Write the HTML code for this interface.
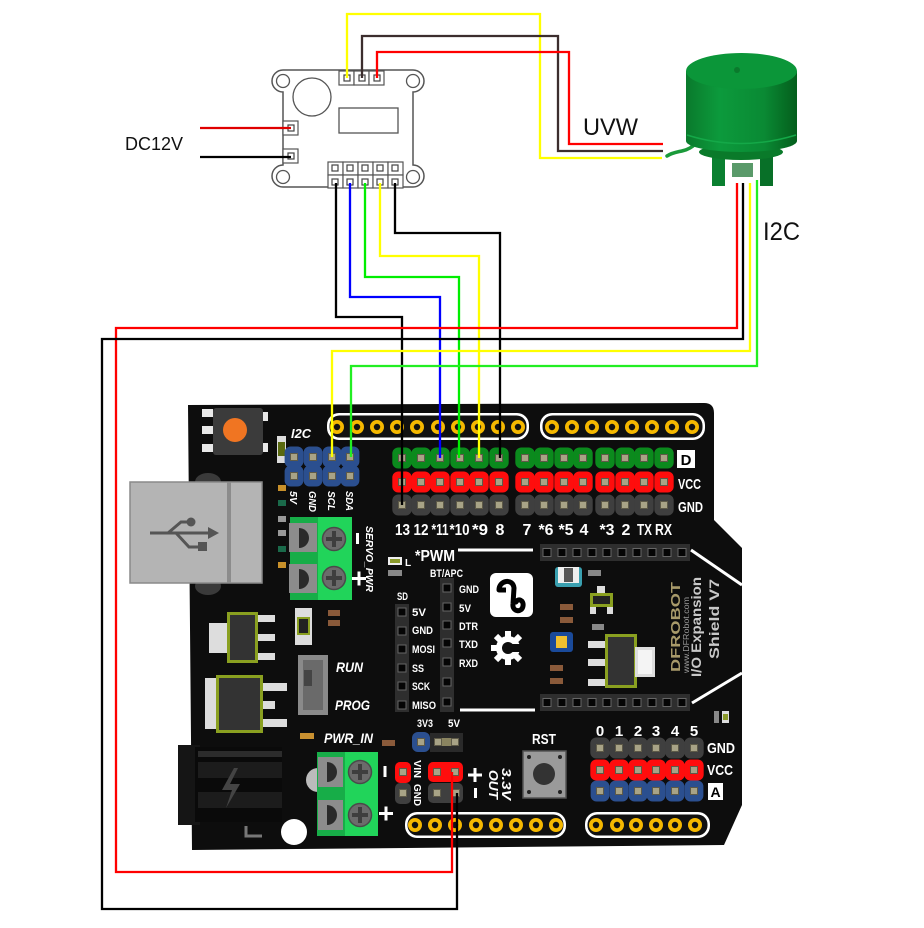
<!DOCTYPE html>
<html><head><meta charset="utf-8"><style>
html,body{margin:0;padding:0;background:#fff;}
svg{display:block}
text{font-family:"Liberation Sans",sans-serif;}
.w{fill:#fff;font-weight:bold;}
.wi{fill:#fff;font-weight:bold;font-style:italic;}
</style></head><body>
<svg width="924" height="928" viewBox="0 0 924 928" xmlns="http://www.w3.org/2000/svg">
<defs>
 <linearGradient id="mg" x1="0" y1="0" x2="1" y2="0">
  <stop offset="0" stop-color="#0a7a2c"/><stop offset="0.3" stop-color="#0c9a3c"/><stop offset="0.7" stop-color="#0a8a34"/><stop offset="1" stop-color="#045e1c"/>
 </linearGradient>
 <g id="ps"><rect x="-3.5" y="-3.5" width="7" height="7" fill="#a8a386" stroke="#5e5a48" stroke-width="1"/></g>
 <g id="cg"><rect x="-9.7" y="-10.5" width="19.4" height="21" rx="6" fill="#0b8a1d"/><use href="#ps"/></g>
 <g id="cr"><rect x="-9.7" y="-10.5" width="19.4" height="21" rx="6" fill="#ff0d0d"/><use href="#ps"/></g>
 <g id="ck"><rect x="-9.7" y="-10.5" width="19.4" height="21" rx="6" fill="#3f3f3f"/><use href="#ps"/></g>
 <g id="cb"><rect x="-9.4" y="-10.5" width="18.8" height="21" rx="6" fill="#2b4f8f"/><use href="#ps"/></g>
 <g id="yp"><circle r="7" fill="#f5b800"/><circle r="3.2" fill="#111"/></g>
 <g id="bp"><rect x="-4" y="-4" width="8" height="8" fill="#050505" stroke="#666" stroke-width="1"/></g>
 <g id="dp"><rect x="-4" y="-4" width="8" height="8" fill="none" stroke="#555" stroke-width="1.2"/><rect x="-2" y="-2" width="4" height="4" fill="#333"/></g>
</defs>

<!-- ===== Driver board ===== -->
<path d="M283,70 H413 A11,11 0 0 1 413,92 V165 A11,11 0 0 1 413,187 H283 A11,11 0 0 1 283,165 V92 A11,11 0 0 1 283,70 Z" fill="#fff" stroke="#555" stroke-width="1.5"/>
<circle cx="283" cy="81" r="6.5" fill="#fff" stroke="#555" stroke-width="1.3"/>
<circle cx="413" cy="81" r="6.5" fill="#fff" stroke="#555" stroke-width="1.3"/>
<circle cx="283" cy="177" r="6.5" fill="#fff" stroke="#555" stroke-width="1.3"/>
<circle cx="413" cy="177" r="6.5" fill="#fff" stroke="#555" stroke-width="1.3"/>
<circle cx="312" cy="97" r="19" fill="#fff" stroke="#555" stroke-width="1.3"/>
<rect x="339" y="108" width="59" height="25" fill="#fff" stroke="#555" stroke-width="1.3"/>
<g fill="#fff" stroke="#555" stroke-width="1.2">
 <rect x="339" y="71" width="15" height="14"/><rect x="354" y="71" width="15" height="14"/><rect x="369" y="71" width="15" height="14"/>
 <rect x="283" y="121" width="15" height="14"/><rect x="283" y="149" width="15" height="14"/>
 <rect x="328" y="162" width="15" height="13"/><rect x="343" y="162" width="15" height="13"/><rect x="358" y="162" width="15" height="13"/><rect x="373" y="162" width="15" height="13"/><rect x="388" y="162" width="15" height="13"/>
 <rect x="328" y="175" width="15" height="13"/><rect x="343" y="175" width="15" height="13"/><rect x="358" y="175" width="15" height="13"/><rect x="373" y="175" width="15" height="13"/><rect x="388" y="175" width="15" height="13"/>
</g>
<g fill="#fff" stroke="#444" stroke-width="1.2">
 <rect x="344" y="75" width="6" height="6"/><rect x="359" y="75" width="6" height="6"/><rect x="374" y="75" width="6" height="6"/>
 <rect x="288" y="125" width="6" height="6"/><rect x="288" y="153" width="6" height="6"/>
 <rect x="332" y="165" width="6" height="6"/><rect x="347" y="165" width="6" height="6"/><rect x="362" y="165" width="6" height="6"/><rect x="377" y="165" width="6" height="6"/><rect x="392" y="165" width="6" height="6"/>
 <rect x="332" y="179" width="6" height="6"/><rect x="347" y="179" width="6" height="6"/><rect x="362" y="179" width="6" height="6"/><rect x="377" y="179" width="6" height="6"/><rect x="392" y="179" width="6" height="6"/>
</g>

<text x="125" y="150" font-size="18" fill="#111" textLength="58" lengthAdjust="spacingAndGlyphs">DC12V</text>
<text x="583" y="135" font-size="24" fill="#111" textLength="55" lengthAdjust="spacingAndGlyphs">UVW</text>
<text x="763" y="240" font-size="25" fill="#111" textLength="37" lengthAdjust="spacingAndGlyphs">I2C</text>

<!-- ===== Motor ===== -->
<path d="M667,156 C676,150 684,153 693,146" stroke="#1a9a3a" stroke-width="3.5" fill="none" stroke-linecap="round"/>
<rect x="712" y="152" width="13" height="34" fill="#0a8030"/>
<rect x="760" y="152" width="13" height="34" fill="#087028"/>
<ellipse cx="741" cy="152" rx="42" ry="8" fill="#0a7a2a"/>
<rect x="732" y="163" width="21" height="14" fill="#5a9a6a"/>
<rect x="686" y="71" width="111" height="70" fill="url(#mg)"/>
<ellipse cx="741.5" cy="141" rx="55.5" ry="11" fill="url(#mg)"/>
<path d="M687,135 Q741,152 796,135" stroke="#14a848" stroke-width="1.5" fill="none"/>
<ellipse cx="741.5" cy="71" rx="55.5" ry="18" fill="#0b9639"/>
<circle cx="737" cy="70" r="3" fill="#0a7a2c"/>

<!-- ===== Arduino shield board ===== -->
<path d="M188,405 L704,403 Q714,403 714,413 L714,520 L742,548 L742,805 L724,845 L192,850 Z" fill="#0d0d0d"/>

<!-- USB -->
<ellipse cx="208" cy="482" rx="13" ry="9" fill="#3a3a3a"/>
<ellipse cx="208" cy="586" rx="13" ry="9" fill="#3a3a3a"/>
<rect x="130" y="482" width="132" height="101" fill="#b4b4b4" stroke="#8a8a8a" stroke-width="1.5"/>
<rect x="227" y="482" width="4" height="101" fill="#8c8c8c"/>
<g stroke="#555" stroke-width="3" fill="none">
 <line x1="150" y1="533" x2="210" y2="533"/>
 <polyline points="168,533 181,522 191,522"/>
 <polyline points="176,533 189,547 200,547"/>
</g>
<circle cx="191" cy="522" r="4.5" fill="#555"/>
<rect x="198" y="542" width="9" height="9" fill="#555"/>
<polygon points="219,533 208,527 208,539" fill="#555"/>

<!-- orange button -->
<g fill="#e8e8e8">
 <rect x="202" y="409" width="11" height="8"/><rect x="202" y="426" width="11" height="8"/><rect x="202" y="444" width="11" height="8"/>
 <rect x="257" y="412" width="11" height="9"/><rect x="257" y="443" width="11" height="9"/>
</g>
<rect x="213" y="408" width="50" height="47" rx="3" fill="#3b3b3b"/>
<circle cx="235" cy="430" r="12" fill="#f07522"/>

<!-- small left parts -->
<rect x="277" y="436" width="9" height="27" fill="#ddd"/><rect x="278" y="442" width="7" height="14" fill="#5a6a10"/>
<rect x="278" y="485" width="8" height="6" fill="#c8902a"/>
<rect x="278" y="500" width="8" height="6" fill="#1a6a4a"/>
<rect x="278" y="516" width="8" height="6" fill="#999"/>
<rect x="278" y="530" width="8" height="6" fill="#999"/>
<rect x="278" y="546" width="8" height="6" fill="#1a6a4a"/>
<rect x="278" y="562" width="8" height="6" fill="#c8902a"/>

<!-- I2C header -->
<text x="291" y="438" font-size="13" class="wi" textLength="20" lengthAdjust="spacingAndGlyphs">I2C</text>
<use href="#cb" x="294" y="457"/><use href="#cb" x="294" y="476"/>
<use href="#cb" x="313" y="457"/><use href="#cb" x="313" y="476"/>
<use href="#cb" x="332" y="457"/><use href="#cb" x="332" y="476"/>
<use href="#cb" x="350" y="457"/><use href="#cb" x="350" y="476"/>
<text transform="translate(290,491) rotate(90)" font-size="10" class="wi" textLength="13" lengthAdjust="spacingAndGlyphs">5V</text>
<text transform="translate(309,491) rotate(90)" font-size="10" class="wi" textLength="21" lengthAdjust="spacingAndGlyphs">GND</text>
<text transform="translate(328,491) rotate(90)" font-size="10" class="wi" textLength="20" lengthAdjust="spacingAndGlyphs">SCL</text>
<text transform="translate(346,491) rotate(90)" font-size="10" class="wi" textLength="20" lengthAdjust="spacingAndGlyphs">SDA</text>

<!-- SERVO_PWR terminal -->
<rect x="290" y="517" width="62" height="83" fill="#21d45a"/>
<rect x="290" y="517" width="28" height="83" fill="#17ad48"/>
<rect x="289" y="523" width="28" height="29" fill="#8c8c8c"/>
<rect x="289" y="564" width="28" height="29" fill="#8c8c8c"/>
<path d="M299,528 a10,10 0 0 1 0,20 z" fill="#2a2a2a"/>
<path d="M299,569 a10,10 0 0 1 0,20 z" fill="#2a2a2a"/>
<circle cx="334" cy="539" r="11.5" fill="#6b6b6b" stroke="#4a4a4a" stroke-width="1.5"/>
<circle cx="334" cy="578" r="11.5" fill="#6b6b6b" stroke="#4a4a4a" stroke-width="1.5"/>
<g fill="#3e3e3e"><rect x="326" y="537" width="16" height="4"/><rect x="332" y="531" width="4" height="16"/><rect x="326" y="576" width="16" height="4"/><rect x="332" y="570" width="4" height="16"/></g>
<rect x="356" y="533" width="3" height="11" fill="#fff"/>
<rect x="352" y="577" width="14" height="3" fill="#fff"/><rect x="357.5" y="571.5" width="3" height="14" fill="#fff"/>
<text transform="translate(366,526) rotate(90)" font-size="10" class="wi" textLength="66" lengthAdjust="spacingAndGlyphs">SERVO_PWR</text>

<!-- top yellow headers -->
<rect x="327" y="413" width="202" height="27" rx="12" fill="#fff"/>
<rect x="329.5" y="415.5" width="197" height="22" rx="10" fill="#111"/>
<rect x="540" y="413" width="165" height="27" rx="12" fill="#fff"/>
<rect x="542.5" y="415.5" width="160" height="22" rx="10" fill="#111"/>
<use href="#yp" x="337" y="427"/><use href="#yp" x="357" y="427"/><use href="#yp" x="377" y="427"/><use href="#yp" x="397" y="427"/><use href="#yp" x="417" y="427"/>
<use href="#yp" x="438" y="427"/><use href="#yp" x="458" y="427"/><use href="#yp" x="478" y="427"/><use href="#yp" x="498" y="427"/><use href="#yp" x="518" y="427"/>
<use href="#yp" x="552" y="427"/><use href="#yp" x="572" y="427"/><use href="#yp" x="592" y="427"/><use href="#yp" x="612" y="427"/>
<use href="#yp" x="632" y="427"/><use href="#yp" x="652" y="427"/><use href="#yp" x="672" y="427"/><use href="#yp" x="692" y="427"/>

<!-- digital rows -->
<g>
<use href="#cg" x="402" y="458"/><use href="#cg" x="421" y="458"/><use href="#cg" x="440" y="458"/><use href="#cg" x="460" y="458"/><use href="#cg" x="479" y="458"/><use href="#cg" x="499" y="458"/>
<use href="#cg" x="525" y="458"/><use href="#cg" x="544" y="458"/><use href="#cg" x="564" y="458"/><use href="#cg" x="583" y="458"/>
<use href="#cg" x="605" y="458"/><use href="#cg" x="625" y="458"/><use href="#cg" x="644" y="458"/><use href="#cg" x="664" y="458"/>
<use href="#cr" x="402" y="482"/><use href="#cr" x="421" y="482"/><use href="#cr" x="440" y="482"/><use href="#cr" x="460" y="482"/><use href="#cr" x="479" y="482"/><use href="#cr" x="499" y="482"/>
<use href="#cr" x="525" y="482"/><use href="#cr" x="544" y="482"/><use href="#cr" x="564" y="482"/><use href="#cr" x="583" y="482"/>
<use href="#cr" x="605" y="482"/><use href="#cr" x="625" y="482"/><use href="#cr" x="644" y="482"/><use href="#cr" x="664" y="482"/>
<use href="#ck" x="402" y="505"/><use href="#ck" x="421" y="505"/><use href="#ck" x="440" y="505"/><use href="#ck" x="460" y="505"/><use href="#ck" x="479" y="505"/><use href="#ck" x="499" y="505"/>
<use href="#ck" x="525" y="505"/><use href="#ck" x="544" y="505"/><use href="#ck" x="564" y="505"/><use href="#ck" x="583" y="505"/>
<use href="#ck" x="605" y="505"/><use href="#ck" x="625" y="505"/><use href="#ck" x="644" y="505"/><use href="#ck" x="664" y="505"/>
</g>
<rect x="677" y="450" width="18" height="18" fill="#fff"/>
<text x="686" y="465" font-size="15" font-weight="bold" fill="#000" text-anchor="middle">D</text>
<text x="678" y="489" font-size="15" class="w" textLength="23" lengthAdjust="spacingAndGlyphs">VCC</text>
<text x="678" y="512" font-size="15" class="w" textLength="25" lengthAdjust="spacingAndGlyphs">GND</text>
<g font-size="16" class="w" text-anchor="middle">
<text x="402.5" y="535" textLength="15" lengthAdjust="spacingAndGlyphs">13</text>
<text x="421" y="535" textLength="15" lengthAdjust="spacingAndGlyphs">12</text>
<text x="440" y="535" textLength="17" lengthAdjust="spacingAndGlyphs">*11</text>
<text x="459.5" y="535" textLength="20" lengthAdjust="spacingAndGlyphs">*10</text>
<text x="480" y="535" textLength="16" lengthAdjust="spacingAndGlyphs">*9</text>
<text x="500" y="535">8</text>
<text x="527" y="535">7</text>
<text x="546" y="535" textLength="15" lengthAdjust="spacingAndGlyphs">*6</text>
<text x="566" y="535" textLength="15" lengthAdjust="spacingAndGlyphs">*5</text>
<text x="584" y="535">4</text>
<text x="607" y="535" textLength="15" lengthAdjust="spacingAndGlyphs">*3</text>
<text x="626" y="535">2</text>
<text x="644.5" y="535" textLength="15" lengthAdjust="spacingAndGlyphs">TX</text>
<text x="663.5" y="535" textLength="17" lengthAdjust="spacingAndGlyphs">RX</text>
</g>

<!-- PWM & lines -->
<text x="415" y="561" font-size="16" class="w" textLength="40" lengthAdjust="spacingAndGlyphs">*PWM</text>
<rect x="458" y="548.5" width="75" height="3" fill="#fff"/>
<rect x="460" y="708.5" width="75" height="3" fill="#fff"/>
<line x1="691" y1="550" x2="742" y2="585" stroke="#fff" stroke-width="3"/>
<line x1="692" y1="703" x2="742" y2="673" stroke="#fff" stroke-width="3"/>

<!-- black dual headers -->
<rect x="540" y="544" width="150" height="17" fill="#2e2e2e"/>
<rect x="540" y="694" width="150" height="17" fill="#2e2e2e"/>
<g>
<use href="#bp" x="547" y="552.5"/><use href="#bp" x="562" y="552.5"/><use href="#bp" x="577" y="552.5"/><use href="#bp" x="592" y="552.5"/><use href="#bp" x="607" y="552.5"/>
<use href="#bp" x="622" y="552.5"/><use href="#bp" x="637" y="552.5"/><use href="#bp" x="652" y="552.5"/><use href="#bp" x="667" y="552.5"/><use href="#bp" x="682" y="552.5"/>
<use href="#bp" x="547" y="702.5"/><use href="#bp" x="562" y="702.5"/><use href="#bp" x="577" y="702.5"/><use href="#bp" x="592" y="702.5"/><use href="#bp" x="607" y="702.5"/>
<use href="#bp" x="622" y="702.5"/><use href="#bp" x="637" y="702.5"/><use href="#bp" x="652" y="702.5"/><use href="#bp" x="667" y="702.5"/><use href="#bp" x="682" y="702.5"/>
</g>

<!-- L led -->
<rect x="388" y="557" width="14" height="8" fill="#eee"/><rect x="390" y="559" width="10" height="4" fill="#8a9a2a"/>
<text x="405" y="566" font-size="10" class="w">L</text>
<rect x="388" y="570" width="14" height="6" fill="#888"/>

<!-- SD / BT headers -->
<text x="430" y="577" font-size="11" class="w" textLength="33" lengthAdjust="spacingAndGlyphs">BT/APC</text>
<text x="397" y="600" font-size="11" class="w" textLength="11" lengthAdjust="spacingAndGlyphs">SD</text>
<rect x="395" y="604" width="14" height="108" fill="#2e2e2e"/>
<use href="#bp" x="402" y="612"/><use href="#bp" x="402" y="631"/><use href="#bp" x="402" y="649"/><use href="#bp" x="402" y="668"/><use href="#bp" x="402" y="686"/><use href="#bp" x="402" y="705"/>
<rect x="440" y="578" width="14" height="134" fill="#2e2e2e"/>
<use href="#bp" x="447" y="588"/><use href="#bp" x="447" y="607"/><use href="#bp" x="447" y="625"/><use href="#bp" x="447" y="643"/><use href="#bp" x="447" y="662"/><use href="#bp" x="447" y="682"/><use href="#bp" x="447" y="702"/>
<g font-size="11" class="w">
<text x="412" y="616" textLength="14" lengthAdjust="spacingAndGlyphs">5V</text>
<text x="412" y="634" textLength="21" lengthAdjust="spacingAndGlyphs">GND</text>
<text x="412" y="653" textLength="23" lengthAdjust="spacingAndGlyphs">MOSI</text>
<text x="412" y="672" textLength="12" lengthAdjust="spacingAndGlyphs">SS</text>
<text x="412" y="690" textLength="18" lengthAdjust="spacingAndGlyphs">SCK</text>
<text x="412" y="709" textLength="24" lengthAdjust="spacingAndGlyphs">MISO</text>
<text x="459" y="593" textLength="20" lengthAdjust="spacingAndGlyphs">GND</text>
<text x="459" y="612" textLength="12" lengthAdjust="spacingAndGlyphs">5V</text>
<text x="459" y="630" textLength="19" lengthAdjust="spacingAndGlyphs">DTR</text>
<text x="459" y="648" textLength="19" lengthAdjust="spacingAndGlyphs">TXD</text>
<text x="459" y="667" textLength="19" lengthAdjust="spacingAndGlyphs">RXD</text>
</g>

<!-- DF logo + gear -->
<rect x="490" y="573" width="43" height="44" rx="6" fill="#fff"/>
<path d="M499,590 C499,580 513,578 514,588 L513,604 C512,612 522,613 523,606 C524,600 518,598 516,602" stroke="#000" stroke-width="5" fill="none" stroke-linecap="round"/>
<path d="M499,590 L506,590" stroke="#000" stroke-width="5"/>
<g fill="#fff" transform="translate(508,648)">
 <circle r="12"/>
 <rect x="-3" y="-17" width="6" height="34"/>
 <rect x="-17" y="-3" width="34" height="6"/>
 <rect x="-3" y="-17" width="6" height="34" transform="rotate(45)"/>
 <rect x="-3" y="-17" width="6" height="34" transform="rotate(-45)"/>
</g>
<circle cx="508" cy="648" r="6" fill="#0d0d0d"/>
<rect x="508" y="644" width="18" height="8" fill="#0d0d0d"/>

<!-- right-middle components -->
<rect x="555" y="567" width="27" height="20" rx="3" fill="#3aa0b0"/><rect x="558" y="567" width="21" height="16" fill="#eee"/><rect x="564" y="568" width="9" height="14" fill="#555"/>
<rect x="588" y="570" width="13" height="6" fill="#888"/>
<rect x="597" y="586" width="8" height="8" fill="#ddd"/>
<rect x="590" y="593" width="23" height="14" fill="#8aa020"/><rect x="593" y="596" width="17" height="8" fill="#222"/>
<rect x="590" y="607" width="6" height="7" fill="#ddd"/><rect x="607" y="607" width="6" height="7" fill="#ddd"/>
<rect x="560" y="604" width="13" height="6" fill="#8a5a3a"/><rect x="560" y="617" width="13" height="6" fill="#8a5a3a"/>
<rect x="592" y="624" width="12" height="6" fill="#888"/>
<rect x="550" y="632" width="23" height="20" rx="3" fill="#1a4a9a"/><rect x="556" y="636" width="11" height="12" fill="#f0c030"/>
<rect x="588" y="641" width="17" height="7" fill="#ddd"/><rect x="588" y="659" width="17" height="7" fill="#ddd"/><rect x="588" y="679" width="17" height="7" fill="#ddd"/>
<rect x="605" y="634" width="32" height="54" fill="#8aa020"/><rect x="608" y="637" width="26" height="48" fill="#333"/>
<rect x="635" y="647" width="20" height="30" fill="#ddd"/><rect x="638" y="650" width="14" height="24" fill="#f4f4f4"/>
<rect x="550" y="665" width="13" height="6" fill="#8a5a3a"/><rect x="550" y="678" width="13" height="6" fill="#8a5a3a"/>

<!-- DFROBOT silkscreen -->
<text transform="translate(680,672) rotate(-90)" font-size="13" font-weight="bold" fill="#a89a6a" textLength="90" lengthAdjust="spacingAndGlyphs">DFROBOT</text>
<text transform="translate(689,673) rotate(-90)" font-size="8" fill="#999" textLength="76" lengthAdjust="spacingAndGlyphs">www.DFRobot.com</text>
<text transform="translate(701,677) rotate(-90)" font-size="14" font-weight="bold" fill="#c8c8c8" textLength="100" lengthAdjust="spacingAndGlyphs">I/O Expansion</text>
<text transform="translate(719,659) rotate(-90)" font-size="14" font-weight="bold" fill="#c8c8c8" textLength="80" lengthAdjust="spacingAndGlyphs">Shield V7</text>

<!-- left regulators -->
<rect x="209" y="623" width="18" height="30" fill="#ddd"/>
<rect x="258" y="615" width="17" height="7" fill="#ddd"/><rect x="258" y="634" width="17" height="7" fill="#ddd"/><rect x="258" y="653" width="17" height="7" fill="#ddd"/>
<rect x="227" y="612" width="31" height="51" fill="#8aa020"/><rect x="230" y="615" width="25" height="45" fill="#333"/>
<rect x="205" y="678" width="12" height="51" fill="#ddd"/>
<rect x="263" y="683" width="24" height="8" fill="#ddd"/><rect x="263" y="701" width="12" height="8" fill="#ddd"/><rect x="263" y="719" width="24" height="8" fill="#ddd"/>
<rect x="216" y="675" width="47" height="58" fill="#8aa020"/><rect x="219" y="678" width="41" height="52" fill="#333"/>
<rect x="295" y="608" width="17" height="37" fill="#ddd"/><rect x="297" y="617" width="13" height="18" fill="#8aa020"/><rect x="299" y="619" width="9" height="14" fill="#222"/>
<rect x="328" y="610" width="12" height="6" fill="#8a5a3a"/><rect x="328" y="620" width="12" height="6" fill="#8a5a3a"/>

<!-- switch -->
<rect x="298" y="655" width="30" height="60" fill="#8a8a8a"/>
<rect x="303" y="660" width="20" height="50" fill="#6a6a6a"/>
<rect x="304" y="670" width="8" height="16" fill="#444"/>
<text x="336" y="672" font-size="14" class="wi" textLength="27" lengthAdjust="spacingAndGlyphs">RUN</text>
<text x="335" y="710" font-size="14" class="wi" textLength="35" lengthAdjust="spacingAndGlyphs">PROG</text>
<rect x="300" y="733" width="14" height="6" fill="#c89030"/>
<text x="324" y="743" font-size="14" class="wi" textLength="49" lengthAdjust="spacingAndGlyphs">PWR_IN</text>
<rect x="382" y="740" width="13" height="6" fill="#8a5a3a"/>

<!-- DC jack -->
<rect x="178" y="745" width="22" height="80" fill="#151515"/>
<rect x="195" y="747" width="87" height="75" fill="#0a0a0a"/>
<rect x="198" y="751" width="84" height="6" fill="#2c2c2c"/>
<rect x="198" y="762" width="84" height="16" fill="#1c1c1c"/>
<rect x="198" y="792" width="84" height="16" fill="#1c1c1c"/>
<polygon points="234,768 222,790 232,790 226,808 240,784 230,784 238,768" fill="#444"/>
<path d="M246,826 V836 H262" stroke="#777" stroke-width="3" fill="none"/>
<path d="M318,768 a12,12 0 0 0 0,24 z" fill="#bbb"/>
<circle cx="294" cy="832" r="13" fill="#fff"/>

<!-- PWR_IN terminal -->
<rect x="317" y="752" width="61" height="84" fill="#21d45a"/>
<rect x="317" y="752" width="28" height="84" fill="#17ad48"/>
<rect x="318" y="757" width="25" height="30" fill="#8c8c8c"/>
<rect x="318" y="800" width="25" height="30" fill="#8c8c8c"/>
<path d="M327,762 a10,10 0 0 1 0,20 z" fill="#2a2a2a"/>
<path d="M327,805 a10,10 0 0 1 0,20 z" fill="#2a2a2a"/>
<circle cx="360" cy="772" r="11.5" fill="#6b6b6b" stroke="#4a4a4a" stroke-width="1.5"/>
<circle cx="360" cy="815" r="11.5" fill="#6b6b6b" stroke="#4a4a4a" stroke-width="1.5"/>
<g fill="#3e3e3e"><rect x="352" y="770" width="16" height="4"/><rect x="358" y="764" width="4" height="16"/><rect x="352" y="813" width="16" height="4"/><rect x="358" y="807" width="4" height="16"/></g>
<rect x="383.5" y="766" width="3" height="11" fill="#fff"/>
<rect x="379" y="812" width="14" height="3" fill="#fff"/><rect x="384.5" y="806.5" width="3" height="14" fill="#fff"/>

<!-- power pins -->
<text x="417" y="727" font-size="11" class="w" textLength="16" lengthAdjust="spacingAndGlyphs">3V3</text>
<text x="448" y="727" font-size="11" class="w" textLength="12" lengthAdjust="spacingAndGlyphs">5V</text>
<rect x="412" y="732" width="18" height="20" rx="6" fill="#2b4f8f"/><use href="#ps" x="421" y="742"/>
<rect x="430" y="733" width="33" height="19" fill="#2a2a2a"/>
<rect x="436" y="738" width="22" height="8" fill="#8a8460"/><use href="#ps" x="438" y="742"/><use href="#ps" x="455" y="742"/>
<rect x="395" y="762" width="16" height="21" rx="5" fill="#ff0d0d"/><use href="#ps" x="403" y="772"/>
<rect x="395" y="783" width="16" height="21" rx="5" fill="#3f3f3f"/><use href="#ps" x="403" y="793"/>
<text transform="translate(414,760) rotate(90)" font-size="10" class="w" textLength="18" lengthAdjust="spacingAndGlyphs">VIN</text>
<text transform="translate(414,784) rotate(90)" font-size="10" class="w" textLength="22" lengthAdjust="spacingAndGlyphs">GND</text>
<rect x="428" y="762" width="35" height="20" rx="5" fill="#ff0d0d"/><use href="#ps" x="437" y="772"/><use href="#ps" x="455" y="772"/>
<rect x="428" y="783" width="35" height="20" rx="5" fill="#3f3f3f"/><use href="#ps" x="437" y="793"/><use href="#ps" x="456" y="793"/>
<rect x="468" y="773.5" width="14" height="3" fill="#fff"/><rect x="473.5" y="768" width="3" height="14" fill="#fff"/>
<rect x="474" y="788" width="3" height="10" fill="#fff"/>
<text transform="translate(502,768) rotate(90)" font-size="13" class="wi" textLength="32" lengthAdjust="spacingAndGlyphs">3.3V</text>
<text transform="translate(489,770) rotate(90)" font-size="13" class="wi" textLength="29" lengthAdjust="spacingAndGlyphs">OUT</text>

<!-- RST -->
<text x="544" y="744" font-size="15" class="w" text-anchor="middle" textLength="24" lengthAdjust="spacingAndGlyphs">RST</text>
<rect x="523" y="751" width="43" height="47" fill="#9a9a9a" stroke="#555" stroke-width="1.5"/>
<circle cx="544" cy="774" r="11" fill="#333"/>
<g fill="#222"><circle cx="529" cy="757" r="2"/><circle cx="560" cy="757" r="2"/><circle cx="529" cy="792" r="2"/><circle cx="560" cy="792" r="2"/></g>

<!-- analog -->
<g font-size="15" class="w" text-anchor="middle">
<text x="600" y="736">0</text><text x="619" y="736">1</text><text x="638" y="736">2</text><text x="656" y="736">3</text><text x="675" y="736">4</text><text x="694" y="736">5</text>
</g>
<use href="#ck" x="600" y="748"/><use href="#ck" x="619" y="748"/><use href="#ck" x="638" y="748"/><use href="#ck" x="656" y="748"/><use href="#ck" x="675" y="748"/><use href="#ck" x="694" y="748"/>
<use href="#cr" x="600" y="770"/><use href="#cr" x="619" y="770"/><use href="#cr" x="638" y="770"/><use href="#cr" x="656" y="770"/><use href="#cr" x="675" y="770"/><use href="#cr" x="694" y="770"/>
<use href="#cb" x="600" y="791"/><use href="#cb" x="619" y="791"/><use href="#cb" x="638" y="791"/><use href="#cb" x="656" y="791"/><use href="#cb" x="675" y="791"/><use href="#cb" x="694" y="791"/>
<text x="707" y="753" font-size="15" class="w" textLength="28" lengthAdjust="spacingAndGlyphs">GND</text>
<text x="707" y="775" font-size="15" class="w" textLength="26" lengthAdjust="spacingAndGlyphs">VCC</text>
<rect x="708" y="783" width="15" height="17" fill="#fff"/>
<text x="715.5" y="797" font-size="14" font-weight="bold" fill="#000" text-anchor="middle">A</text>
<rect x="714" y="711" width="5" height="12" fill="#888"/><rect x="722" y="711" width="7" height="12" fill="#ddd"/><rect x="723" y="714" width="5" height="6" fill="#8a9a2a"/>

<!-- bottom headers -->
<rect x="405" y="812" width="161" height="26" rx="12" fill="#fff"/>
<rect x="407.5" y="814.5" width="156" height="21" rx="10" fill="#111"/>
<rect x="585" y="812" width="125" height="26" rx="12" fill="#fff"/>
<rect x="587.5" y="814.5" width="120" height="21" rx="10" fill="#111"/>
<use href="#yp" x="415" y="825"/><use href="#yp" x="435" y="825"/><use href="#yp" x="455" y="825"/><use href="#yp" x="476" y="825"/><use href="#yp" x="496" y="825"/><use href="#yp" x="516" y="825"/><use href="#yp" x="536" y="825"/><use href="#yp" x="556" y="825"/>
<use href="#yp" x="596" y="825"/><use href="#yp" x="617" y="825"/><use href="#yp" x="636" y="825"/><use href="#yp" x="656" y="825"/><use href="#yp" x="675" y="825"/><use href="#yp" x="695" y="825"/>

<!-- ===== Wires ===== -->
<g fill="none" stroke-width="2.3" stroke-linejoin="miter">
 <path d="M200,128 H291" stroke="#e00000"/>
 <path d="M200,157 H291" stroke="#000"/>
 <path d="M347,78 V14 H540 V158 H662" stroke="#ffff00"/>
 <path d="M362,78 V36 H558 V151 H663" stroke="#3c2e2e"/>
 <path d="M377,78 V52 H569 V144 H663" stroke="#ff0000"/>
 <path d="M336,183 V317 H402 V505" stroke="#000"/>
 <path d="M350,183 V297 H440 V458" stroke="#0000ff"/>
 <path d="M365,183 V277 H459 V458" stroke="#00ee00"/>
 <path d="M380,183 V256 H479 V458" stroke="#ffff00"/>
 <path d="M395,183 V233 H500 V458" stroke="#000"/>
 <path d="M737,183 V328 H116 V872 H452 V772" stroke="#ff0000"/>
 <path d="M743,183 V339 H102 V909 H457 V793" stroke="#000"/>
 <path d="M750,183 V351 H332 V457" stroke="#ffff00"/>
 <path d="M757,180 V366 H351 V457" stroke="#22ee22"/>
</g>
</svg>
</body></html>
